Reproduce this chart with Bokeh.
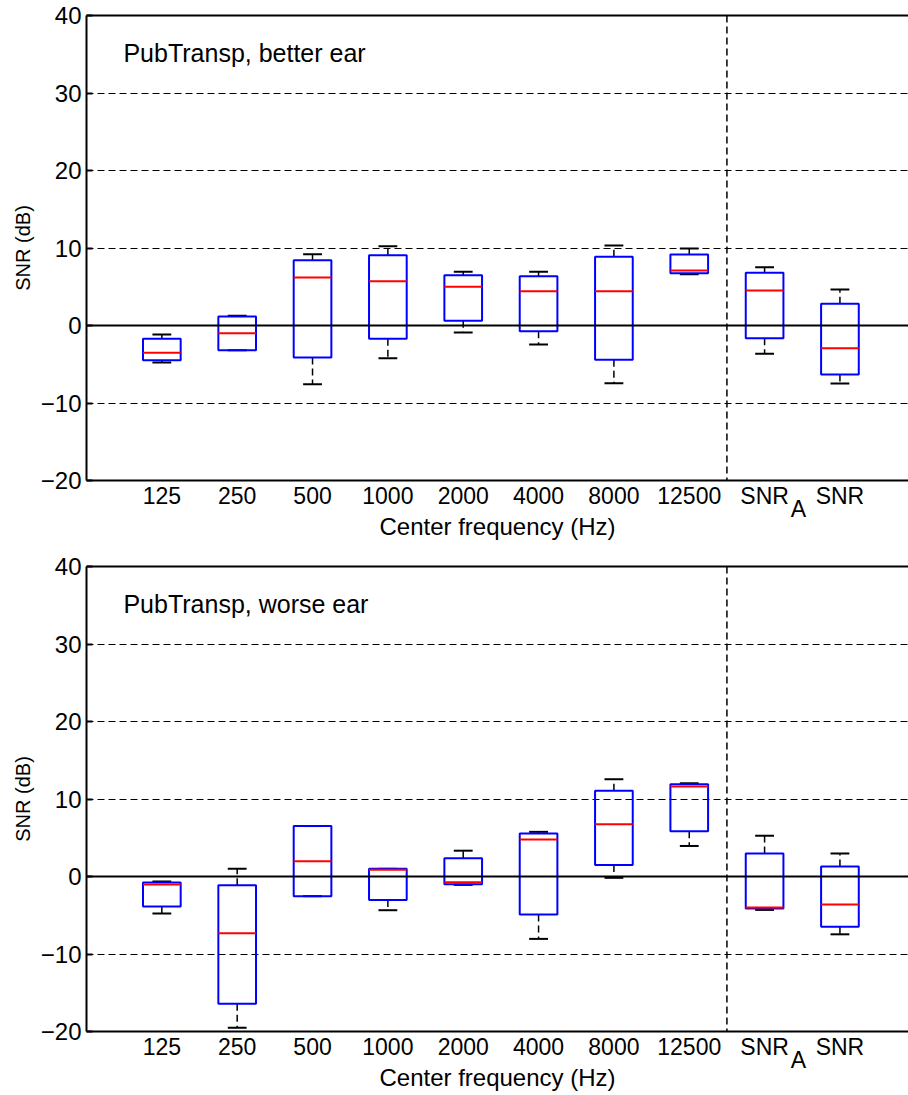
from bokeh.plotting import figure
from bokeh.layouts import column
from bokeh.models import Span, LinearAxis, FixedTicker
from bokeh.core.properties import value
from bokeh.embed import file_html
from bokeh.resources import INLINE

# ---- data ----
categories = ["125", "250", "500", "1000", "2000", "4000", "8000", "12500", "SNR_A", "SNR"]
tick_labels = ["125", "250", "500", "1000", "2000", "4000", "8000", "12500", "SNR", "SNR"]
subscript_label = "A"          # subscript of the 9th tick label (SNR_A)
y_ticks = [-20, -10, 0, 10, 20, 30, 40]
y_tick_labels = ["\u221220", "\u221210", "0", "10", "20", "30", "40"]

better_low = [-4.77, -3.18, -7.57, -4.22, -0.90, -2.45, -7.44, 6.62, -3.66, -7.48]
better_q1 = [-4.47, -3.18, -4.13, -1.72, 0.60, -0.73, -4.43, 6.75, -1.63, -6.32]
better_med = [-3.53, -0.99, 6.19, 5.72, 4.99, 4.43, 4.43, 7.10, 4.52, -2.92]
better_q3 = [-1.72, 1.16, 8.43, 9.08, 6.49, 6.37, 8.86, 9.16, 6.80, 2.80]
better_high = [-1.16, 1.25, 9.20, 10.24, 6.92, 6.92, 10.32, 9.94, 7.53, 4.65]

worse_low = [-4.78, -19.53, -2.54, -4.35, -1.08, -8.05, -0.17, 3.94, -4.31, -7.46]
worse_q1 = [-3.88, -16.42, -2.54, -3.02, -1.00, -4.89, 1.47, 5.84, -4.14, -6.47]
worse_med = [-1.03, -7.33, 1.98, 0.86, -0.74, 4.76, 6.75, 11.60, -4.01, -3.62]
worse_q3 = [-0.78, -1.12, 6.51, 0.99, 2.34, 5.54, 11.08, 11.90, 2.97, 1.29]
worse_high = [-0.65, 0.99, 6.51, 0.99, 3.33, 5.76, 12.55, 12.03, 5.26, 2.97]

FONT = "Liberation Sans"


def make_panel(title, low, q1, med, q3, high, top_border):
    xs = list(range(1, len(categories) + 1))
    p = figure(frame_width=822, frame_height=465, x_range=(0, 10.91), y_range=(-20, 40),
               output_backend="svg", toolbar_location=None,
               min_border_left=86, min_border_right=0, min_border_top=top_border,
               min_border_bottom=64)
    p.outline_line_color = None
    p.background_fill_color = "white"
    p.border_fill_color = "white"

    # y axis
    ya = p.yaxis[0]
    ya.ticker = FixedTicker(ticks=y_ticks)
    ya.major_label_overrides = {t: l for t, l in zip(y_ticks, y_tick_labels)}
    ya.axis_label = "SNR (dB)"
    ya.axis_label_text_font = FONT
    ya.axis_label_text_font_size = "20px"
    ya.axis_label_text_font_style = "normal"
    ya.axis_label_text_color = "black"
    ya.major_label_text_font = FONT
    ya.major_label_text_font_size = "24px"
    ya.major_label_text_color = "black"
    ya.axis_line_width = 2
    ya.axis_line_color = "black"
    ya.major_tick_in = 6
    ya.major_tick_out = 0
    ya.major_tick_line_width = 2
    ya.major_tick_line_color = "black"
    ya.minor_tick_line_color = None
    ya.major_label_standoff = 5
    ya.axis_label_standoff = 4

    # x axis (tick labels)
    xa = p.xaxis[0]
    xa.ticker = FixedTicker(ticks=xs)
    xa.major_label_overrides = {x: l for x, l in zip(xs, tick_labels)}
    xa.major_label_text_font = FONT
    xa.major_label_text_font_size = "23px"
    xa.major_label_text_color = "black"
    xa.axis_line_width = 2
    xa.axis_line_color = "black"
    xa.major_tick_in = 0
    xa.major_tick_out = 0
    xa.major_tick_line_color = None
    xa.minor_tick_line_color = None
    xa.major_label_standoff = 2

    # second x axis: subscript "A" and axis label
    xa2 = LinearAxis(ticker=FixedTicker(ticks=[9.45]),
                     major_label_overrides={9.45: subscript_label},
                     major_label_text_font=FONT, major_label_text_font_size="23px",
                     major_label_text_color="black", major_label_standoff=-16,
                     major_tick_in=0, major_tick_out=0,
                     major_tick_line_color=None, minor_tick_line_color=None,
                     axis_line_color=None,
                     axis_label="Center frequency (Hz)", axis_label_text_font=FONT,
                     axis_label_text_font_size="24px", axis_label_text_font_style="normal",
                     axis_label_text_color="black", axis_label_standoff=-12)
    p.add_layout(xa2, "below")

    # top border line
    top = LinearAxis(ticker=FixedTicker(ticks=[]), major_tick_line_color=None,
                     minor_tick_line_color=None, major_label_standoff=0,
                     major_tick_in=0, major_tick_out=0,
                     axis_line_width=2, axis_line_color="black")
    p.add_layout(top, "above")

    # grid
    p.xgrid.grid_line_color = None
    p.ygrid.ticker = FixedTicker(ticks=[-10, 10, 20, 30])
    p.ygrid.grid_line_color = "black"
    p.ygrid.grid_line_dash = "7 4"
    p.ygrid.grid_line_width = 1

    p.add_layout(Span(location=0, dimension="width", line_color="black", line_width=2))
    p.add_layout(Span(location=8.5, dimension="height", line_color="black",
                      line_width=1.5, line_dash="7 4"))

    hw = 0.25
    cw = 0.125
    # whiskers
    p.segment(x0=xs, x1=xs, y0=q3, y1=high, line_color="black", line_width=1.5, line_dash="7 4")
    p.segment(x0=xs, x1=xs, y0=q1, y1=low, line_color="black", line_width=1.5, line_dash="7 4")
    p.segment(x0=[x - cw for x in xs], x1=[x + cw for x in xs], y0=high, y1=high,
              line_color="black", line_width=2)
    p.segment(x0=[x - cw for x in xs], x1=[x + cw for x in xs], y0=low, y1=low,
              line_color="black", line_width=2)
    # boxes
    p.quad(left=[x - hw for x in xs], right=[x + hw for x in xs], bottom=q1, top=q3,
           fill_color=None, line_color="#0000ff", line_width=2)
    # medians
    p.segment(x0=[x - hw for x in xs], x1=[x + hw for x in xs], y0=med, y1=med,
              line_color="#ff0000", line_width=2)

    p.text(x=[0.49], y=[35.1], text=[title], text_font=value(FONT), text_font_size=value("25px"),
           text_baseline="middle", text_align="left", text_color="black")
    return p


p1 = make_panel("PubTransp, better ear", better_low, better_q1, better_med, better_q3, better_high, 15)
p2 = make_panel("PubTransp, worse ear", worse_low, worse_q1, worse_med, worse_q3, worse_high, 22)

layout = column(p1, p2, spacing=0)
open("out.html", "w").write(file_html(layout, INLINE))
